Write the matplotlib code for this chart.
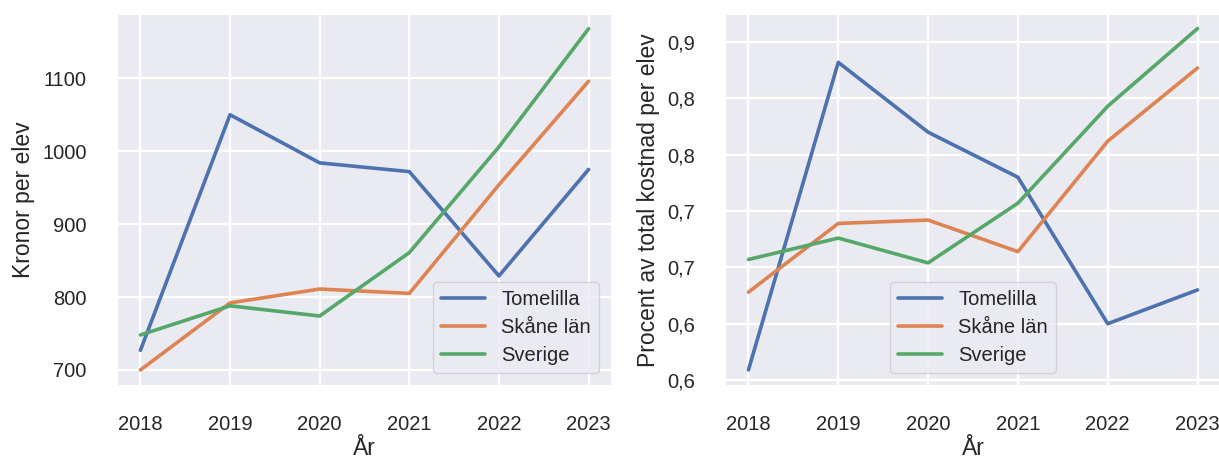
import matplotlib
matplotlib.use("Agg")
import matplotlib.pyplot as plt
import seaborn as sns

sns.set_theme(style="darkgrid")
plt.rcParams['font.family'] = ['Liberation Sans', 'DejaVu Sans']

years = [2018, 2019, 2020, 2021, 2022, 2023]
series_names = ["Tomelilla", "Skåne län", "Sverige"]

kronor_tomelilla = [727, 1050, 984, 972, 829, 975]
kronor_skane = [700, 792, 811, 805, 954, 1096]
kronor_sverige = [748, 788, 774, 861, 1006, 1168]

procent_tomelilla = [0.609, 0.882, 0.820, 0.780, 0.650, 0.680]
procent_skane = [0.678, 0.739, 0.742, 0.714, 0.812, 0.877]
procent_sverige = [0.707, 0.726, 0.704, 0.757, 0.843, 0.912]

left_yticks = [700, 800, 900, 1000, 1100]
right_yticks = [0.60, 0.65, 0.70, 0.75, 0.80, 0.85, 0.90]
right_yticklabels = ["0,6", "0,6", "0,7", "0,7", "0,8", "0,8", "0,9"]

colors = sns.color_palette("deep")

W, H = 1219, 461
fig = plt.figure(figsize=(W / 100, H / 100), dpi=100)
ax1 = fig.add_axes([118 / W, (H - 385) / H, 493 / W, 370 / H])
ax2 = fig.add_axes([726 / W, (H - 385) / H, 494 / W, 370 / H])

lw = 2.6
for ax, data in [(ax1, [kronor_tomelilla, kronor_skane, kronor_sverige]),
                 (ax2, [procent_tomelilla, procent_skane, procent_sverige])]:
    for i, (name, vals) in enumerate(zip(series_names, data)):
        ax.plot(years, vals, color=colors[i], lw=lw, label=name)
    ax.set_xticks(years)
    ax.set_xlabel("År", fontsize=16.5, labelpad=2.5)
    ax.tick_params(axis='x', labelsize=14.5, pad=15.5)
    ax.tick_params(axis='y', labelsize=14.5, pad=16.5)
    for s in ax.spines.values():
        s.set_visible(False)
    ax.grid(color='white', lw=1.6)

ax1.set_ylim(679.4, 1186.8)
ax1.set_yticks(left_yticks)
ax1.set_ylabel("Kronor per elev", fontsize=16.5, labelpad=5)
ax1.legend(loc='lower right', fontsize=14.5, borderaxespad=0.6,
           handlelength=2.2, labelspacing=0.45)

ax2.set_ylim(0.5956, 0.924)
ax2.set_yticks(right_yticks)
ax2.set_yticklabels(right_yticklabels)
ax2.set_ylabel("Procent av total kostnad per elev", fontsize=16.5, labelpad=5)
ax2.legend(loc='lower center', fontsize=14.5, borderaxespad=0.6,
           handlelength=2.2, labelspacing=0.45)

fig.savefig("out.png", dpi=100)
